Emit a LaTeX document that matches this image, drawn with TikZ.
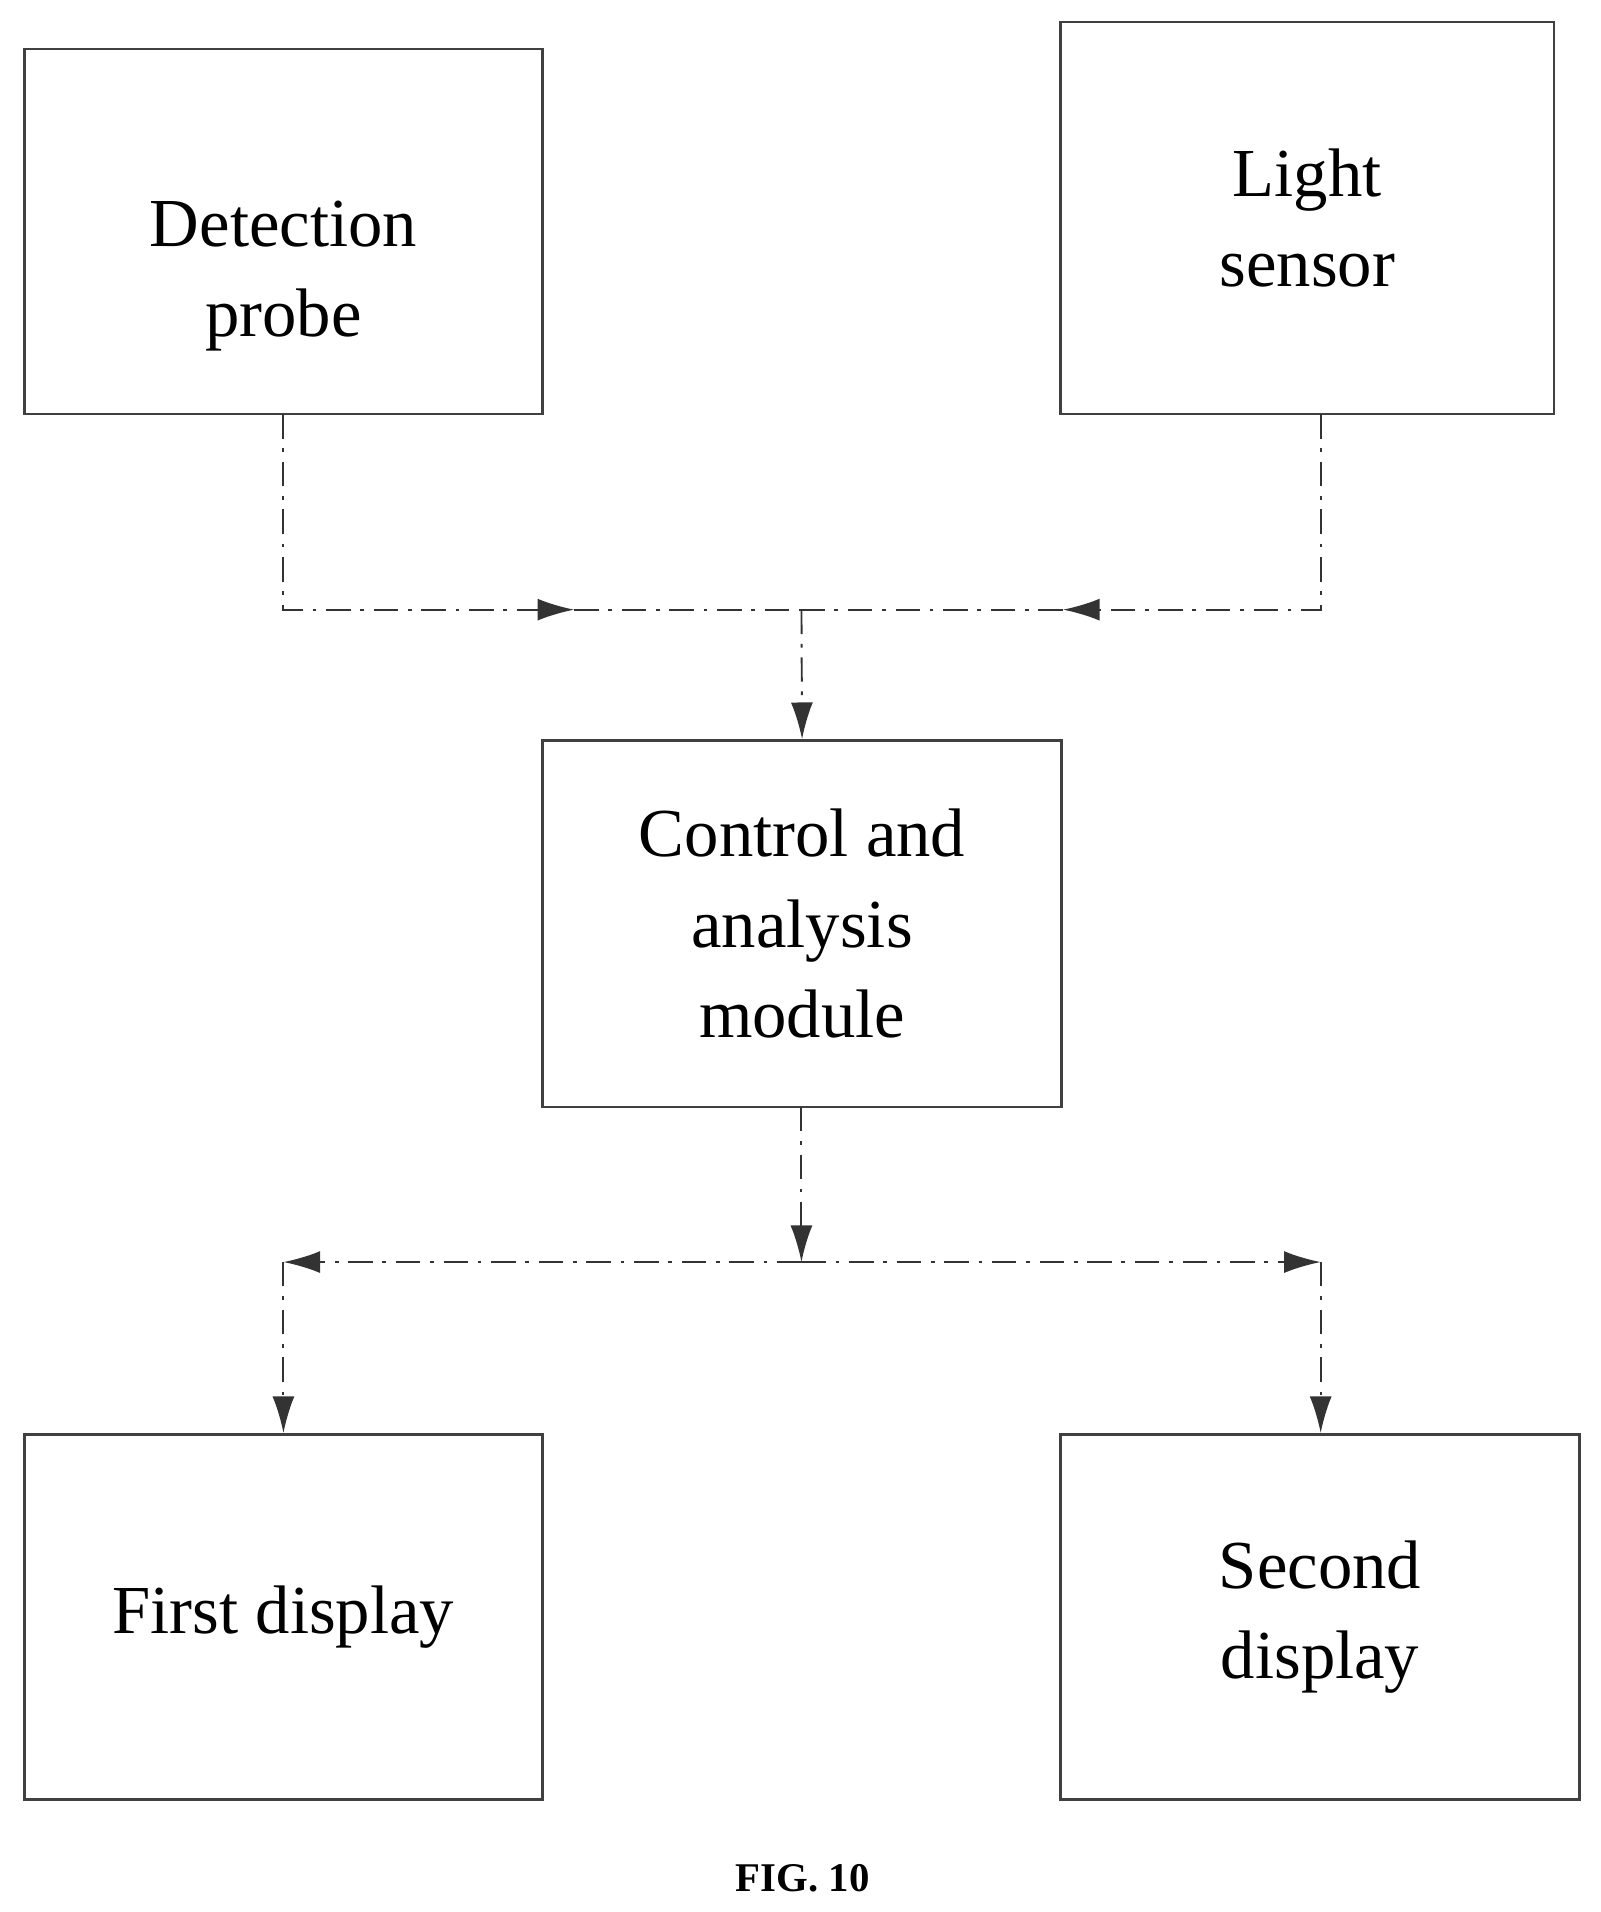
\documentclass[tikz,border=0pt]{standalone}
\usepackage{fontspec}
\setmainfont{Liberation Serif}
\usetikzlibrary{arrows.meta}
\begin{document}
\begin{tikzpicture}[x=0.02cm,y=-0.02cm,
 box/.style={draw=black!75,line width=1.2pt,minimum width=8.5cm,minimum height=6cm,inner sep=0pt,align=center,font=\fontsize{32}{42}\selectfont},
 con/.style={draw=black!80,line width=0.9pt,dash pattern=on 0.4cm off 0.16cm on 0.06cm off 0.16cm},
 arr/.style={con,-{Latex[length=6mm,width=3.6mm]}}]
\useasboundingbox (0,0) rectangle (1310,1565);
\node[box,minimum width=8.48cm,minimum height=5.98cm] (dp) at (232,189.5) {\strut\\[-0.3cm]Detection\\probe};
\node[box,minimum width=8.08cm,minimum height=6.42cm] (ls) at (1070,178.5) {Light\\sensor};
\node[box,minimum width=8.5cm,minimum height=6cm] (ca) at (656.5,756) {Control and\\analysis\\module};
\node[box,minimum width=8.48cm,minimum height=5.98cm] (fd) at (232,1323.5) {First display};
\node[box,minimum width=8.5cm,minimum height=5.98cm] (sd) at (1080.5,1323.5) {Second\\display};
\node[font=\bfseries\fontsize{19}{22}\selectfont] (fig) at (657,1537) {FIG. 10};
\coordinate (a1) at (232,339); \coordinate (a2) at (232,499); \coordinate (a3) at (470,499);
\coordinate (m) at (656,499);
\coordinate (b1) at (1081,339); \coordinate (b2) at (1081,499); \coordinate (b3) at (870,499);
\coordinate (c1) at (656,906); \coordinate (c2) at (656,1033);
\coordinate (d1) at (232,1033); \coordinate (d2) at (1081,1033);
\draw[arr] (a1) -- (a2) -- (a3);
\draw[con] (a3) -- (m);
\draw[arr] (b1) -- (b2) -- (b3);
\draw[con] (b3) -- (m);
\draw[arr] (m) -- (ca.north);
\draw[arr] (c1) -- (c2);
\draw[arr] (c2) -- (d1);
\draw[arr] (c2) -- (d2);
\draw[arr] (d1) -- (fd.north -| d1);
\draw[arr] (d2) -- (sd.north -| d2);
\end{tikzpicture}
\end{document}
